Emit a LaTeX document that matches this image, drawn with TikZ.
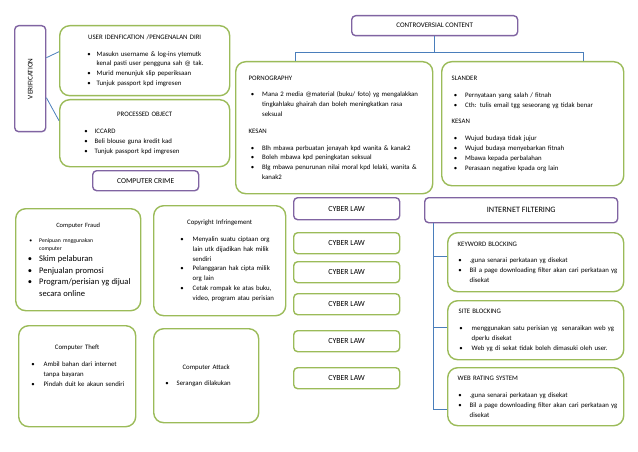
\documentclass[tikz,border=0pt]{standalone}
\usepackage{fontspec}
\setmainfont{Carlito}
\usepackage{graphicx}
\usepackage{enumitem}
\setlist[itemize]{label=\textbullet, itemsep=0pt, parsep=0pt, topsep=7pt, partopsep=0pt, leftmargin=13.5pt, labelsep=8pt}

\begin{document}
\begin{tikzpicture}[x=1pt, y=-1pt, font=\fontsize{6.8}{9.8}\selectfont,
		box/.style={anchor=north west, inner sep=0pt, line width=1.4pt, fill=white, align=left},
		gbox/.style={box, draw=framegreen, rounded corners=10pt},
		pbox/.style={box, draw=framepurple, rounded corners=4pt, align=center},
		lawbox/.style={box, draw=framegreen, rounded corners=4pt, align=center, minimum width=106pt, minimum height=21pt, font=\fontsize{7.8}{9}\selectfont},
		link/.style={draw=linkblue, line width=0.8pt}]
		\definecolor{framegreen}{RGB}{155, 187, 89}
		\definecolor{framepurple}{RGB}{128, 100, 162}
		\definecolor{linkblue}{RGB}{74, 126, 187}
		\useasboundingbox (0,0) rectangle (638,452);

		% 左上：验证
		\node[pbox, minimum width=31pt, minimum height=106pt, font=\fontsize{7.2}{8}\selectfont] (verif) at (14,25) {\rotatebox{90}{VERIFICATION}};
		\node[gbox, minimum width=170pt, minimum height=70pt, text width=152pt] (userid) at (59,25) {
			{\centering USER IDENFICATION /PENGENALAN DIRI\par}
			\begin{itemize}[leftmargin=28pt, labelsep=6pt]
				\item Masukn username \& log-ins ytemutk\newline kenal pasti user pengguna sah @ tak.
				\item Murid menunjuk slip peperiksaan
				\item Tunjuk passport kpd imgresen
			\end{itemize}
		};
		\node[gbox, minimum width=170pt, minimum height=67pt, text width=152pt] (processed) at (59,99) {
			{\centering PROCESSED OBJECT\par}
			\begin{itemize}[leftmargin=26pt, labelsep=7pt]
				\item ICCARD
				\item Beli blouse guna kredit kad
				\item Tunjuk passport kpd imgresen
			\end{itemize}
		};
		\node[pbox, minimum width=106pt, minimum height=20pt, font=\fontsize{7.5}{8}\selectfont] (crime) at (92,170) {COMPUTER CRIME};
		\draw[link] ([yshift=21pt]verif.east) -- ([yshift=9pt]userid.west);
		\draw[link] ([yshift=-19pt]verif.east) -- ([yshift=12.5pt]processed.west);

		% 右上：争议内容
		\node[pbox, minimum width=166pt, minimum height=20pt, font=\fontsize{7}{8}\selectfont] (contro) at (351,15) {CONTROVERSIAL CONTENT};
		\node[gbox, minimum width=197pt, minimum height=132pt, text width=177pt] (porn) at (235,61) {
			\hspace*{3pt}PORNOGRAPHY
			\begin{itemize}[leftmargin=16.5pt, labelsep=8pt]
				\item Mana 2 media @material (buku/ foto) yg mengalakkan\newline tingkahlaku ghairah dan boleh meningkatkan rasa\newline seksual
			\end{itemize}
			\hspace*{3pt}KESAN
			\begin{itemize}[leftmargin=16.5pt, labelsep=8pt]
				\item Blh mbawa perbuatan jenayah kpd wanita \& kanak2
				\item Boleh mbawa kpd peningkatan seksual
				\item Blg mbawa penurunan nilai moral kpd lelaki, wanita \&\newline kanak2
			\end{itemize}
		};
		\node[gbox, minimum width=182pt, minimum height=124pt, text width=162pt] (slander) at (441,61) {
			SLANDER
			\begin{itemize}
				\item Pernyataan yang salah / fitnah
				\item Cth: tulis email tgg seseorang yg tidak benar
			\end{itemize}
			KESAN
			\begin{itemize}
				\item Wujud budaya tidak jujur
				\item Wujud budaya menyebarkan fitnah
				\item Mbawa kepada perbalahan
				\item Perasaan negative kpada org lain
			\end{itemize}
		};
		\draw[link] (contro.south) -- ++(0,16) coordinate (split);
		\draw[link] ([xshift=-38.5pt]porn.north) |- (split) -| ([xshift=51pt]slander.north);

		% 左下：计算机犯罪
		\node[gbox, minimum width=125pt, minimum height=102pt, text width=113pt] (fraud) at (15,208) {
			{\centering\fontsize{6.5}{8}\selectfont Computer Fraud\par}
			\begin{itemize}[leftmargin=17.5pt, labelsep=7pt]
				\fontsize{5.7}{8}\selectfont
				\item Penipuan mnggunakan\newline computer\par
				\fontsize{8.5}{11.5}\selectfont
				\item Skim pelaburan
				\item Penjualan promosi
				\item Program/perisian yg dijual\newline secara online
			\end{itemize}
		};
		\node[gbox, minimum width=132pt, minimum height=110pt, text width=120pt] (copyright) at (153,205) {
			{\centering Copyright Infringement\par}
			\begin{itemize}[leftmargin=33pt, labelsep=9pt]
				\item Menyalin suatu ciptaan org\newline lain utk dijadikan hak milik\newline sendiri
				\item Pelanggaran hak cipta milik\newline org lain
				\item Cetak rompak ke atas buku,\newline video, program atau perisian
			\end{itemize}
		};
		\node[gbox, minimum width=117pt, minimum height=101pt, text width=105pt] (theft) at (18,325) {
			{\centering Computer Theft\par}
			\begin{itemize}[leftmargin=19pt, labelsep=9pt]
				\item Ambil bahan dari internet\newline tanpa bayaran
				\item Pindah duit ke akaun sendiri
			\end{itemize}
			\vspace{4pt}\mbox{}
		};
		\node[gbox, minimum width=105pt, minimum height=94pt, text width=89pt] (attack) at (153,328) {
			{\centering Computer Attack\par}
			\begin{itemize}[leftmargin=15pt, labelsep=8pt]
				\item Serangan dilakukan
			\end{itemize}
		};

		% 中间：网络法
		\node[pbox, minimum width=106pt, minimum height=22pt, font=\fontsize{7.8}{9}\selectfont] (cyberlaw) at (293,197) {CYBER LAW};
		\node[lawbox] (law1) at (293,232) {CYBER LAW};
		\node[lawbox] (law2) at (293,261) {CYBER LAW};
		\node[lawbox] (law3) at (293,293) {CYBER LAW};
		\node[lawbox] (law4) at (293,330) {CYBER LAW};
		\node[lawbox] (law5) at (293,367) {CYBER LAW};

		% 右下：网络过滤
		\node[pbox, minimum width=193pt, minimum height=25pt, font=\fontsize{8.2}{9}\selectfont] (filter) at (424,197) {INTERNET FILTERING};
		\node[gbox, minimum width=176pt, minimum height=59pt, text width=170pt] (kw) at (447,232) {
			\hspace*{7pt}KEYWORD BLOCKING
			\begin{itemize}[leftmargin=19pt, labelsep=8pt]
				\item .guna senarai perkataan yg disekat
				\item Bil a page downloading filter akan cari perkataan yg\newline disekat
			\end{itemize}
		};
		\node[gbox, minimum width=176pt, minimum height=59pt, text width=170pt] (site) at (447,300) {
			\hspace*{8pt}SITE BLOCKING
			\begin{itemize}[leftmargin=21pt, labelsep=9pt]
				\item menggunakan satu perisian yg\ \ senaraikan web yg\newline dperlu disekat
				\item Web yg di sekat tidak boleh dimasuki oleh user.
			\end{itemize}
		};
		\node[gbox, minimum width=176pt, minimum height=58pt, text width=170pt] (web) at (447,367) {
			\hspace*{7pt}WEB RATING SYSTEM
			\begin{itemize}[leftmargin=19pt, labelsep=8pt]
				\item .guna senarai perkataan yg disekat
				\item Bil a page downloading filter akan cari perkataan yg\newline disekat
			\end{itemize}
		};
		\draw[link] ([xshift=9pt]filter.south west) coordinate (ftop) |- ([yshift=-13pt]web.west);
		\path ([yshift=5.5pt]kw.west) coordinate (kwin) ([yshift=2.5pt]site.west) coordinate (sitein);
		\draw[link] (ftop |- kwin) -- (kwin);
		\draw[link] (ftop |- sitein) -- (sitein);
	\end{tikzpicture}
\end{document}
